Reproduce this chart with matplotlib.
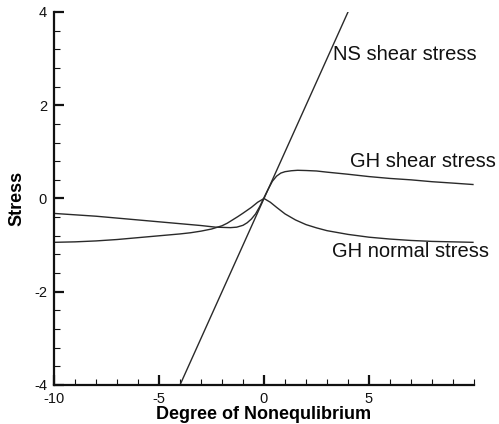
import matplotlib
matplotlib.use("Agg")
import matplotlib.pyplot as plt
from matplotlib.ticker import MultipleLocator, FixedLocator

plt.rcParams['font.family'] = ['Liberation Sans', 'DejaVu Sans']
plt.rcParams['axes.unicode_minus'] = False

# Navier-Stokes shear stress (straight line)
ns_x = [-4.0, 4.0]
ns_y = [-4.0, 4.0]

# GH shear stress
gh_shear_x = [-10, -9, -8, -7, -6, -5, -4, -3, -2.3, -1.6, -1.3, -1.0, -0.8, -0.6,
              -0.4, -0.2, 0.0, 0.2, 0.4, 0.6, 0.8, 1.0, 1.3, 1.6, 2.0, 2.5, 3.0,
              4, 5, 6, 7, 8, 9, 9.95]
gh_shear_y = [-0.32, -0.35, -0.38, -0.42, -0.46, -0.50, -0.54, -0.58, -0.615, -0.625,
              -0.615, -0.575, -0.52, -0.44, -0.33, -0.17, 0.02, 0.20, 0.37, 0.48, 0.545,
              0.575, 0.595, 0.605, 0.60, 0.59, 0.565, 0.52, 0.47, 0.43, 0.40, 0.36,
              0.33, 0.30]

# GH normal stress
gh_normal_x = [-10, -9, -8, -7, -6, -5, -4, -3.5, -3, -2.5, -2, -1.75, -1.5, -1.25, -1,
               -0.6, -0.3, 0.0, 0.3, 0.6, 1.0, 1.5, 2.0, 2.5, 3.0, 4, 5, 6, 7, 8, 9, 9.95]
gh_normal_y = [-0.94, -0.93, -0.91, -0.88, -0.84, -0.80, -0.76, -0.735, -0.70, -0.655,
               -0.585, -0.53, -0.46, -0.39, -0.315, -0.19, -0.08, 0.0, -0.08, -0.19,
               -0.33, -0.46, -0.56, -0.63, -0.69, -0.77, -0.83, -0.87, -0.90, -0.92,
               -0.93, -0.94]

x_ticks = [-10, -5, 0, 5]
y_ticks = [-4, -2, 0, 2, 4]

labels = ["NS shear stress", "GH shear stress", "GH normal stress"]
label_pos = [(3.3, 2.97), (4.1, 0.68), (3.24, -1.26)]

fig = plt.figure(figsize=(4.99, 4.24), dpi=100)
ax = fig.add_axes([0.1082, 0.0920, 0.8417, 0.8797])

lc = '#2a2a2a'
ax.plot(ns_x, ns_y, color=lc, lw=1.0)
ax.plot(gh_shear_x, gh_shear_y, color=lc, lw=1.0)
ax.plot(gh_normal_x, gh_normal_y, color=lc, lw=1.0)

for t, (tx, ty) in zip(labels, label_pos):
    ax.text(tx, ty, t, fontsize=14.5, ha='left', va='baseline', color='#111111')

ax.set_xlim(-10, 10)
ax.set_ylim(-4, 4)
ax.xaxis.set_major_locator(FixedLocator(x_ticks))
ax.yaxis.set_major_locator(FixedLocator(y_ticks))
ax.xaxis.set_minor_locator(MultipleLocator(1))
ax.yaxis.set_minor_locator(MultipleLocator(0.4))

for s in ['top', 'right']:
    ax.spines[s].set_visible(False)
for s in ['left', 'bottom']:
    ax.spines[s].set_linewidth(1.6)
    ax.spines[s].set_color('#111111')

ax.tick_params(which='major', direction='in', length=7, width=1.6, labelsize=10.5,
               colors='#111111', pad=5)
ax.tick_params(which='minor', direction='in', length=4, width=0.8, colors='#111111')
ax.tick_params(axis='y', pad=5)

ax.set_xlabel("Degree of Nonequlibrium", fontsize=13, fontweight='bold', labelpad=0)
ax.set_ylabel("Stress", fontsize=13, fontweight='bold', labelpad=6)

fig.savefig("out.png", dpi=100)
